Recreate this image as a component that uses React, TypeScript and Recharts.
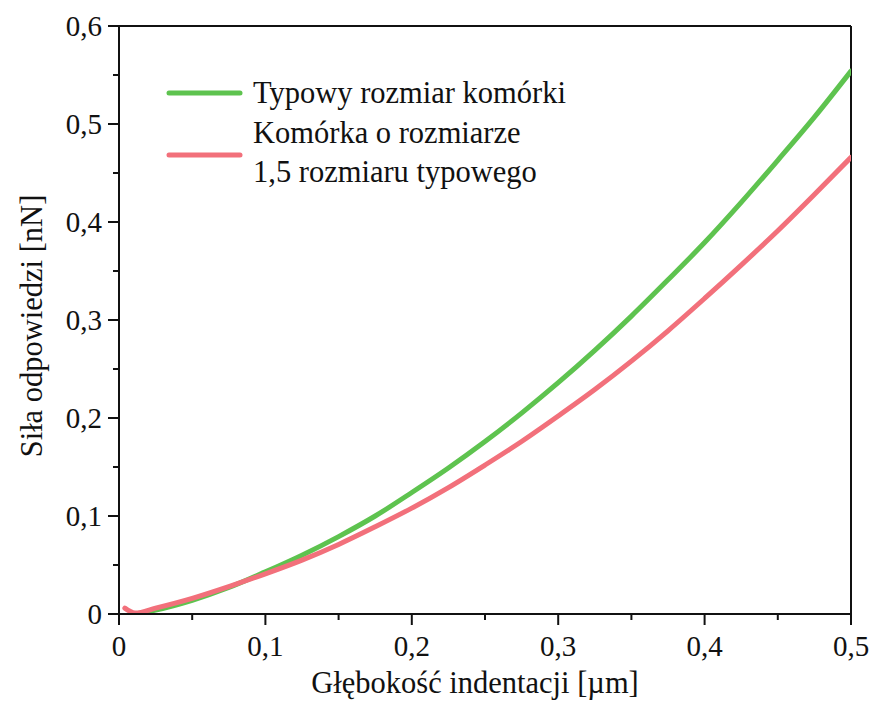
import { Label, Line, LineChart, ReferenceLine, XAxis, YAxis } from "recharts";

// indentation depth [µm]
const depth = [
  0.004, 0.011, 0.025, 0.05, 0.075, 0.1, 0.125, 0.15, 0.175, 0.2, 0.225, 0.25,
  0.275, 0.3, 0.325, 0.35, 0.375, 0.4, 0.425, 0.45, 0.475, 0.5,
];

// response force [nN], typical cell size
const typicalCell = [
  null, 0.0, 0.004, 0.014, 0.027, 0.043, 0.06, 0.079, 0.1, 0.124, 0.149,
  0.176, 0.205, 0.236, 0.269, 0.304, 0.341, 0.379, 0.42, 0.463, 0.507, 0.554,
];

// response force [nN], cell 1.5x the typical size
const largerCell = [
  0.006, 0.001, 0.006, 0.016, 0.028, 0.041, 0.055, 0.071, 0.089, 0.108, 0.129,
  0.152, 0.176, 0.202, 0.229, 0.258, 0.289, 0.322, 0.356, 0.391, 0.428, 0.466,
];

const xTicks = [0, 0.05, 0.1, 0.15, 0.2, 0.25, 0.3, 0.35, 0.4, 0.45, 0.5];
const yTicks = [0, 0.05, 0.1, 0.15, 0.2, 0.25, 0.3, 0.35, 0.4, 0.45, 0.5, 0.55, 0.6];

const data = depth.map((d, i) => ({
  depth: d,
  typical: typicalCell[i],
  larger: largerCell[i],
}));

const INK = "#111";
const GREEN = "#5ec34f";
const RED = "#f2707b";
const FONT =
  '"Liberation Serif", "Times New Roman", Times, "Nimbus Roman", "Noto Serif", "DejaVu Serif", FreeSerif, Tinos, serif';
const tickStyle = { fontFamily: FONT, fontSize: 29 };
const textStyle = { fontFamily: FONT, fontSize: 30.5 };

const isMajor = (v: number) => Math.round(v * 100) % 10 === 0;
const fmt = (v: number) => (v === 0 ? "0" : v.toFixed(1).replace(".", ","));

function XTick({ x, y, payload }: any) {
  const v = payload.value;
  const major = isMajor(v);
  return (
    <g>
      <line x1={x} x2={x} y1={y} y2={y + (major ? 11 : 6)} stroke={INK} strokeWidth={2} />
      {major && (
        <text x={x} y={y + 42} textAnchor="middle" style={tickStyle} fill={INK}>
          {fmt(v)}
        </text>
      )}
    </g>
  );
}

function YTick({ x, y, payload }: any) {
  const v = payload.value;
  const major = isMajor(v);
  return (
    <g>
      <line x1={x - (major ? 11 : 6)} x2={x} y1={y} y2={y} stroke={INK} strokeWidth={2} />
      {major && (
        <text x={x - 17} y={y + 10} textAnchor="end" style={tickStyle} fill={INK}>
          {fmt(v)}
        </text>
      )}
    </g>
  );
}

const legendItems = [
  { color: GREEN, lineY: 93, lines: ["Typowy rozmiar komórki"], textY: 103 },
  { color: RED, lineY: 155, lines: ["Komórka o rozmiarze", "1,5 rozmiaru typowego"], textY: 143 },
];

export default function App() {
  return (
    <div style={{ position: "absolute", left: 0, top: 0, width: 873, height: 707, background: "#fff" }}>
      <LineChart
        width={873}
        height={707}
        data={data}
        margin={{ top: 26, right: 22, bottom: 0, left: 0 }}
      >
        <XAxis
          dataKey="depth"
          type="number"
          domain={[0, 0.5]}
          ticks={xTicks}
          interval={0}
          height={93}
          tickSize={0}
          tickMargin={0}
          tickLine={false}
          tick={<XTick />}
          axisLine={{ stroke: INK, strokeWidth: 2 }}
          allowDataOverflow
        >
          <Label
            content={({ viewBox }: any) => (
              <text
                x={viewBox.x + viewBox.width / 2 - 10}
                y={viewBox.y + 79}
                textAnchor="middle"
                style={textStyle}
                fill={INK}
              >
                Głębokość indentacji [µm]
              </text>
            )}
          />
        </XAxis>
        <YAxis
          type="number"
          domain={[0, 0.6]}
          ticks={yTicks}
          interval={0}
          width={119}
          tickSize={0}
          tickMargin={0}
          tickLine={false}
          tick={<YTick />}
          axisLine={{ stroke: INK, strokeWidth: 2 }}
          allowDataOverflow
        >
          <Label
            content={({ viewBox }: any) => {
              const cx = 42;
              const cy = viewBox.y + viewBox.height / 2 + 6;
              return (
                <text
                  x={cx}
                  y={cy}
                  transform={`rotate(-90, ${cx}, ${cy})`}
                  textAnchor="middle"
                  style={textStyle}
                  fill={INK}
                >
                  Siła odpowiedzi [nN]
                </text>
              );
            }}
          />
        </YAxis>
        <ReferenceLine y={0.6} stroke={INK} strokeWidth={2} />
        <ReferenceLine x={0.5} stroke={INK} strokeWidth={2} />
        <Line
          type="monotone"
          dataKey="typical"
          stroke={GREEN}
          strokeWidth={5}
          dot={false}
          strokeLinecap="round"
          isAnimationActive={false}
        />
        <Line
          type="monotone"
          dataKey="larger"
          stroke={RED}
          strokeWidth={5}
          dot={false}
          strokeLinecap="round"
          isAnimationActive={false}
        />
      </LineChart>
      <svg width={873} height={707} style={{ position: "absolute", left: 0, top: 0, pointerEvents: "none" }}>
        {legendItems.map((item) => (
          <g key={item.color}>
            <line x1={169} x2={240} y1={item.lineY} y2={item.lineY} stroke={item.color} strokeWidth={5} strokeLinecap="round" />
            {item.lines.map((t, i) => (
              <text key={t} x={253} y={item.textY + i * 39} style={textStyle} fill={INK}>
                {t}
              </text>
            ))}
          </g>
        ))}
      </svg>
    </div>
  );
}
